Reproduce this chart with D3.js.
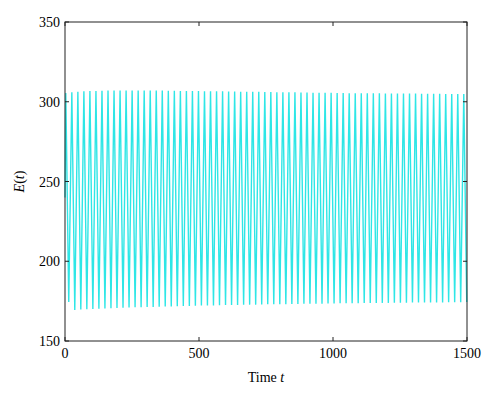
<!DOCTYPE html>
<html><head><meta charset="utf-8">
<script src="https://cdn.jsdelivr.net/npm/d3@7"></script>
<style>body{margin:0;background:#fff}text{font-family:"Liberation Serif",serif}</style>
</head><body><svg id="c" width="500" height="404"></svg>
<script>
// values: peak/trough of each cycle
const period = 22.5;
const peakStart = 3, troughStart = 14;
const peaks = [305.5,306,306.3,306.5,306.7,306.8,306.9,307,307,307.1,307.1,307.1,307.1,307.1,307,307,307,306.9,306.9,306.8,306.8,306.7,306.7,306.6,306.6,306.5,306.5,306.4,306.4,306.3,306.3,306.2,306.2,306.1,306.1,306,306,305.9,305.9,305.8,305.8,305.7,305.7,305.6,305.6,305.5,305.5,305.4,305.4,305.4,305.3,305.3,305.3,305.2,305.2,305.2,305.1,305.1,305.1,305,305,305,305,304.9,304.9,304.9,304.9];
const troughs = [174.5,169.5,169.7,169.9,170.1,170.3,170.4,170.6,170.7,170.9,171,171.1,171.2,171.3,171.4,171.5,171.6,171.7,171.8,171.9,172,172.1,172.2,172.3,172.3,172.4,172.5,172.6,172.6,172.7,172.8,172.8,172.9,173,173,173.1,173.1,173.2,173.2,173.3,173.3,173.4,173.4,173.5,173.5,173.6,173.6,173.7,173.7,173.8,173.8,173.8,173.9,173.9,174,174,174,174.1,174.1,174.1,174.2,174.2,174.2,174.3,174.3,174.3,174.4];
const xTicks = [0, 500, 1000, 1500];
const yTicks = [150, 200, 250, 300, 350];

const pts = [[0, 240]];
const n = Math.min(peaks.length, troughs.length);
for (let k = 0; k < n; k++) {
  pts.push([peakStart + k * period, peaks[k]]);
  const tt = troughStart + k * period;
  if (tt <= 1500) pts.push([tt, troughs[k]]);
}

const svg = d3.select('#c');
const L = 65, R = 467, T = 22, B = 341;
const x = d3.scaleLinear().domain([0, 1500]).range([L, R]);
const y = d3.scaleLinear().domain([150, 350]).range([B, T]);

svg.append('path').datum(pts)
  .attr('d', d3.line().x(d => x(d[0])).y(d => y(d[1])))
  .attr('fill', 'none').attr('stroke', '#2ee6e6').attr('stroke-width', 1.4);

svg.append('rect').attr('x', L).attr('y', T).attr('width', R - L).attr('height', B - T)
  .attr('fill', 'none').attr('stroke', '#222').attr('stroke-width', 1);

const g = svg.append('g');
xTicks.forEach(v => {
  g.append('line').attr('x1', x(v)).attr('x2', x(v)).attr('y1', B).attr('y2', B - 4).attr('stroke', '#222');
  g.append('line').attr('x1', x(v)).attr('x2', x(v)).attr('y1', T).attr('y2', T + 4).attr('stroke', '#222');
  g.append('text').attr('x', x(v)).attr('y', B + 17).attr('text-anchor', 'middle')
    .attr('font-size', 14).text(v);
});
yTicks.forEach(v => {
  g.append('line').attr('x1', L).attr('x2', L + 4).attr('y1', y(v)).attr('y2', y(v)).attr('stroke', '#222');
  g.append('line').attr('x1', R).attr('x2', R - 4).attr('y1', y(v)).attr('y2', y(v)).attr('stroke', '#222');
  g.append('text').attr('x', L - 5).attr('y', y(v) + 5).attr('text-anchor', 'end')
    .attr('font-size', 14).text(v);
});

const xl = svg.append('text').attr('x', (L + R) / 2).attr('y', 382).attr('text-anchor', 'middle').attr('font-size', 14);
xl.append('tspan').text('Time ');
xl.append('tspan').attr('font-style', 'italic').text('t');

const yl = svg.append('text').attr('transform', `translate(24,${(T + B) / 2}) rotate(-90)`)
  .attr('text-anchor', 'middle').attr('font-size', 14);
yl.append('tspan').attr('font-style', 'italic').text('E');
yl.append('tspan').text('(');
yl.append('tspan').attr('font-style', 'italic').text('t');
yl.append('tspan').text(')');
</script></body></html>
